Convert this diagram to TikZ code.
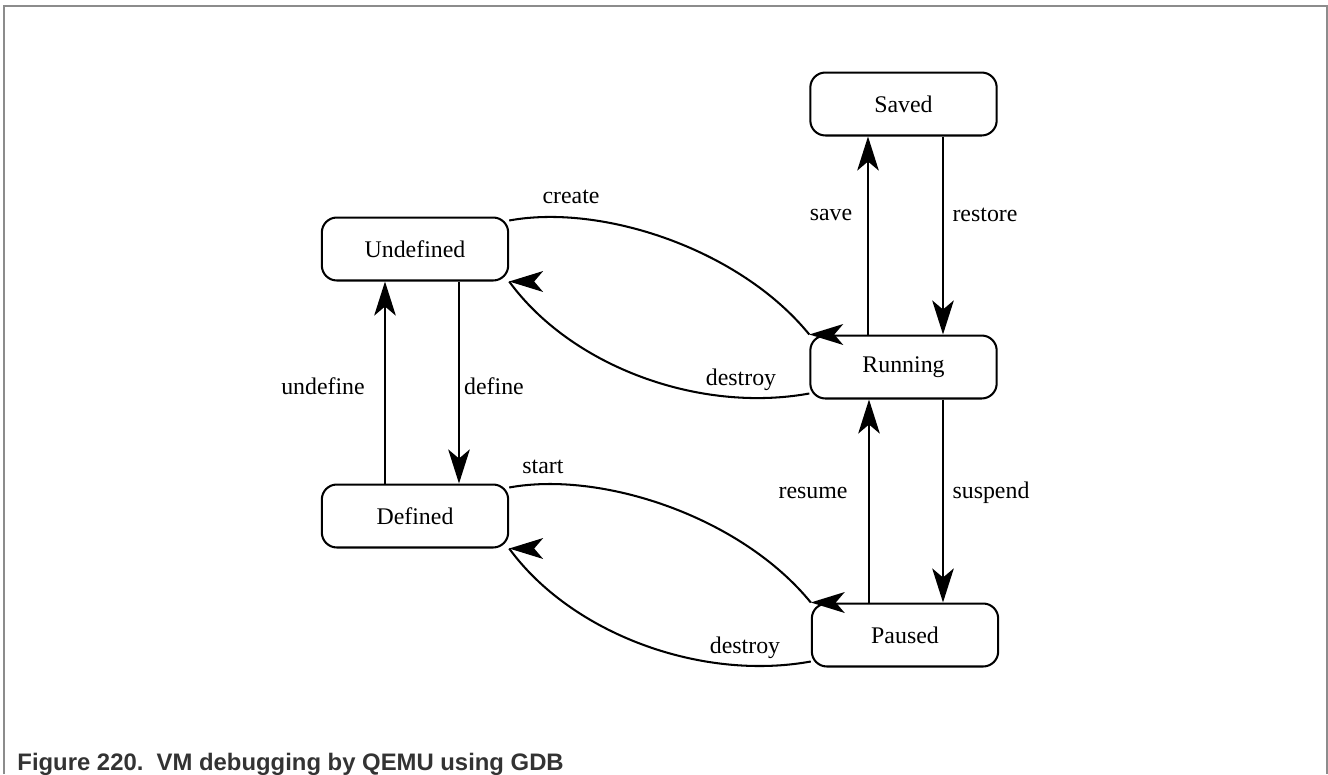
\documentclass[tikz,border=0pt]{standalone}
\usepackage{fontspec}
\setmainfont{Liberation Serif}
\newfontfamily\capfont{Liberation Sans}
\usetikzlibrary{arrows.meta,calc}
\begin{document}
\begin{tikzpicture}[x=0.44pt,y=-0.44pt,
  state/.style={draw, line width=0.9pt, rounded corners=6.6pt, minimum width=82pt, minimum height=27.7pt, inner sep=0pt, font=\fontsize{10.5}{12}\selectfont},
  lbl/.style={font=\fontsize{10.5}{12}\selectfont, inner sep=0pt},
  arr/.style={line width=0.9pt, -{Stealth[length=15pt,width=9.5pt,inset=4pt]}},
  curve/.style={line width=0.9pt},
  lhead/.pic={\fill (0,0) -- (34,-10.5) -- (25,0) -- (34,10.5) -- cycle;},
  frameline/.style={draw=black!45, line width=0.7pt}]
\useasboundingbox (0,0) rectangle (1328,774);
\draw[frameline] (4,774) -- (4,6) -- (1327,6) -- (1327,774);

\node[state] (S) at (903.5,104) {Saved};
\node[state] (U) at (415,249) {Undefined};
\node[state] (R) at (903.5,367) {Running};
\node[state] (D) at (415,516) {Defined};
\node[state] (P) at (905,635) {Paused};

\coordinate (a1) at ($(D.north)+(-30,0)$);
\draw[arr] (a1) -- (a1 |- U.south);
\coordinate (a2) at ($(U.south)+(44,0)$);
\draw[arr] (a2) -- (a2 |- D.north);
\coordinate (a3) at ($(R.north)+(-35.5,0)$);
\draw[arr] (a3) -- (a3 |- S.south);
\coordinate (a4) at ($(S.south)+(39.5,0)$);
\draw[arr] (a4) -- (a4 |- R.north);
\coordinate (a5) at ($(P.north)+(-36,0)$);
\draw[arr] (a5) -- (a5 |- R.south);
\coordinate (a6) at ($(R.south)+(39.5,0)$);
\draw[arr] (a6) -- (a6 |- P.north);

\coordinate (c1) at ($(U.north east)+(0,4)$);
\draw[curve] (c1) .. controls +(92,-17) and +(-70,-86) .. (R.north west);
\pic at (R.north west) {lhead};
\coordinate (c2) at ($(R.south west)+(0,-6)$);
\draw[curve] (c2) .. controls +(-110,20) and +(62,85) .. (U.south east);
\pic at (U.south east) {lhead};
\coordinate (c3) at ($(D.north east)+(0,4)$);
\draw[curve] (c3) .. controls +(92,-17) and +(-70,-86) .. (P.north west);
\pic at (P.north west) {lhead};
\coordinate (c4) at ($(P.south west)+(0,-6)$);
\draw[curve] (c4) .. controls +(-110,20) and +(62,85) .. (D.south east);
\pic at (D.south east) {lhead};

\node[lbl] (l1) at (571,197) {create};
\node[lbl] (l2) at (741,380) {destroy};
\node[lbl] (l3) at (831,215) {save};
\node[lbl] (l4) at (985,215) {restore};
\node[lbl] (l5) at (323,386) {undefine};
\node[lbl] (l6) at (494,386) {define};
\node[lbl] (l7) at (543,467) {start};
\node[lbl] (l8) at (813,493) {resume};
\node[lbl] (l9) at (991,493) {suspend};
\node[lbl] (l10) at (745,648) {destroy};

\node[anchor=base west, inner sep=0pt, text=black!80, font=\capfont\bfseries\fontsize{10.5}{12}\selectfont] (cap) at (17,770) {Figure 220.~~VM debugging by QEMU using GDB};
\end{tikzpicture}
\end{document}
